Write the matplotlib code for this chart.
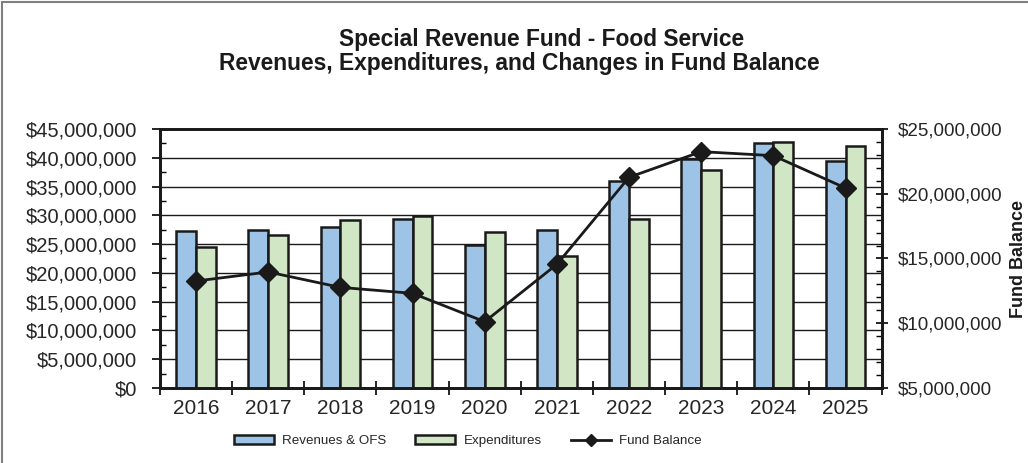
import numpy as np
import matplotlib.pyplot as plt
from matplotlib.ticker import FuncFormatter, MultipleLocator
from matplotlib.patches import Rectangle

years = ['2016', '2017', '2018', '2019', '2020', '2021', '2022', '2023', '2024', '2025']
revenues = [27.3, 27.4, 28.0, 29.4, 24.8, 27.4, 36.0, 39.8, 42.5, 39.5]
expenditures = [24.5, 26.6, 29.2, 29.8, 27.1, 22.9, 29.3, 37.8, 42.8, 42.0]
fund_balance = [13.26, 13.96, 12.77, 12.31, 10.12, 14.55, 21.27, 23.25, 22.94, 20.44]

plt.rcParams['font.family'] = ['Liberation Sans', 'DejaVu Sans']

blue = '#9dc3e6'
green = '#d0e6c4'
ink = '#1a1a1a'
txt = '#262626'

fig = plt.figure(figsize=(10.28, 4.63), dpi=100)
ax = fig.add_axes([0.1556, 0.162, 0.702, 0.5594])
ax2 = ax.twinx()

x = np.arange(len(years))
w = 0.275
m = 1e6
ax.bar(x - w / 2, np.array(revenues) * m, w, color=blue, edgecolor=ink,
       linewidth=1.8, label='Revenues & OFS', zorder=3)
ax.bar(x + w / 2, np.array(expenditures) * m, w, color=green, edgecolor=ink,
       linewidth=1.8, label='Expenditures', zorder=3)
ax2.plot(x, np.array(fund_balance) * m, color=ink, linewidth=2,
         marker='D', markersize=10, label='Fund Balance')

ax.set_xlim(-0.5, len(years) - 0.5)
ax.set_ylim(0, 45e6)
ax2.set_ylim(5e6, 25e6)

money = FuncFormatter(lambda v, p: '${:,.0f}'.format(v))
ax.yaxis.set_major_locator(MultipleLocator(5e6))
ax.yaxis.set_minor_locator(MultipleLocator(2.5e6))
ax.yaxis.set_major_formatter(money)
ax2.yaxis.set_major_locator(MultipleLocator(5e6))
ax2.yaxis.set_minor_locator(MultipleLocator(1e6))
ax2.yaxis.set_major_formatter(money)

ax.grid(axis='y', color=ink, linewidth=1, zorder=0)
ax.set_axisbelow(True)

ax.set_xticks(x)
ax.set_xticklabels(years, fontsize=15, color=txt)
ax.set_xticks(np.arange(-0.5, len(years)), minor=True)
ax.tick_params(axis='x', which='major', length=0, pad=8)
ax.tick_params(axis='x', which='minor', length=10, width=1.2, direction='inout')
ax.tick_params(axis='y', which='major', labelsize=14.5, labelcolor=txt, length=6,
               width=1.2, direction='out', pad=10.5)
ax.tick_params(axis='y', which='minor', length=4, width=1, direction='in')
ax2.tick_params(axis='y', which='major', labelsize=13.5, labelcolor=txt, length=8,
                width=1.2, direction='inout', pad=8)
ax2.tick_params(axis='y', which='minor', length=4, width=1, direction='in')

for a in (ax, ax2):
    for s in a.spines.values():
        s.set_linewidth(2)
        s.set_color(ink)

fig.text(0.991, 0.44, 'Fund Balance', rotation=90, ha='center', va='center',
         fontsize=13, fontweight='bold', color=ink)

fig.text(0.527, 0.915, 'Special Revenue Fund - Food Service', ha='center', va='center',
         fontsize=16.4, fontweight='bold', color=ink)
fig.text(0.505, 0.862, 'Revenues, Expenditures, and Changes in Fund Balance', ha='center',
         va='center', fontsize=16.4, fontweight='bold', color=ink)

h1, l1 = ax.get_legend_handles_labels()
h2, l2 = ax2.get_legend_handles_labels()
leg = fig.legend(h1 + h2, l1 + l2, loc='center', bbox_to_anchor=(0.455, 0.047), ncol=3,
                 frameon=False, fontsize=9.6, handlelength=3.0, handleheight=0.6,
                 columnspacing=2.2, handletextpad=0.6)
for t in leg.get_texts():
    t.set_color(txt)
for hd in leg.legend_handles[2:]:
    hd.set_markersize(6)

fig.patches.append(Rectangle((0.002, -0.01), 1.2, 1.006, transform=fig.transFigure,
                             fill=False, edgecolor='#808080', linewidth=1.5))

fig.savefig('out.png', dpi=100)
